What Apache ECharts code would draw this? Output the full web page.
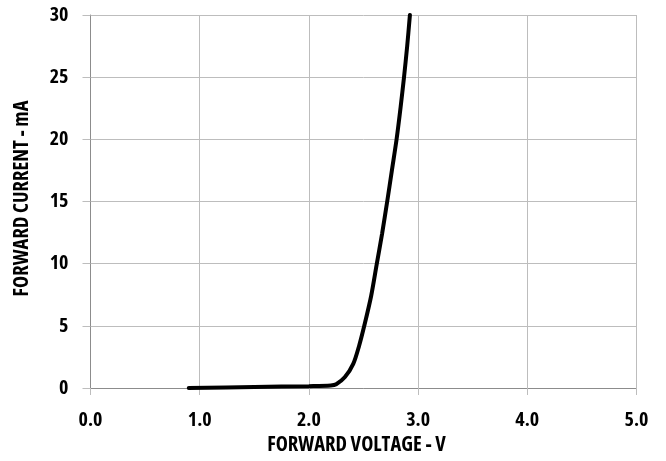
<!DOCTYPE html>
<html><head><meta charset="utf-8">
<script src="https://cdn.jsdelivr.net/npm/echarts@6/dist/echarts.min.js"></script>
<style>html,body{margin:0;padding:0;background:#fff}#c{width:666px;height:461px}</style>
</head><body><div id="c"></div>
<script>
const voltage = [0.9, 1.5, 2.0, 2.2, 2.25, 2.33, 2.406, 2.46, 2.507, 2.57, 2.62, 2.67, 2.717, 2.76, 2.803, 2.84, 2.871, 2.9, 2.925];
const current = [0.0, 0.08, 0.15, 0.2, 0.3, 0.88, 1.94, 3.4, 5.0, 7.4, 9.9, 12.4, 15.0, 17.5, 20.0, 22.6, 25.0, 27.5, 30.0];
const xTitle = 'FORWARD VOLTAGE - V';
const yTitle = 'FORWARD CURRENT - mA';
const FONT = '"Open Sans", sans-serif';
const W = 'bold condensed';
const chart = echarts.init(document.getElementById('c'), null, {renderer: 'canvas'});
chart.setOption({
  animation: false,
  grid: {left: 90.5, right: 29.5, top: 15, bottom: 69.5},
  xAxis: {
    type: 'value', min: 0, max: 5, interval: 1,
    name: xTitle, nameLocation: 'middle', nameGap: 47,
    nameTextStyle: {fontFamily: FONT, fontWeight: W, fontSize: 20.5, color: '#000', padding: [0, 14, 0, 0]},
    axisLine: {show: true, lineStyle: {color: '#8c8c8c', width: 1}},
    axisTick: {show: true, length: 7, lineStyle: {color: '#bdbdbd'}},
    axisLabel: {formatter: v => v.toFixed(1), margin: 22, fontFamily: FONT, fontWeight: W, fontSize: 20, color: '#000'},
    splitLine: {show: true, lineStyle: {color: '#bdbdbd', width: 1}}
  },
  yAxis: {
    type: 'value', min: 0, max: 30, interval: 5,
    name: yTitle, nameLocation: 'middle', nameGap: 58, nameRotate: 90,
    nameTextStyle: {fontFamily: FONT, fontWeight: W, fontSize: 20.5, color: '#000', padding: [0, 0, 0, 6]},
    axisLine: {show: true, lineStyle: {color: '#8c8c8c', width: 1}},
    axisTick: {show: true, length: 8, lineStyle: {color: '#bdbdbd'}},
    axisLabel: {margin: 22, fontFamily: FONT, fontWeight: W, fontSize: 20, color: '#000'},
    splitLine: {show: true, lineStyle: {color: '#bdbdbd', width: 1}}
  },
  series: [{
    type: 'line',
    data: voltage.map((v, i) => [v, current[i]]),
    smooth: 0.3,
    showSymbol: false,
    lineStyle: {color: '#000', width: 4, cap: 'round'},
    clip: true
  }]
});
</script></body></html>
